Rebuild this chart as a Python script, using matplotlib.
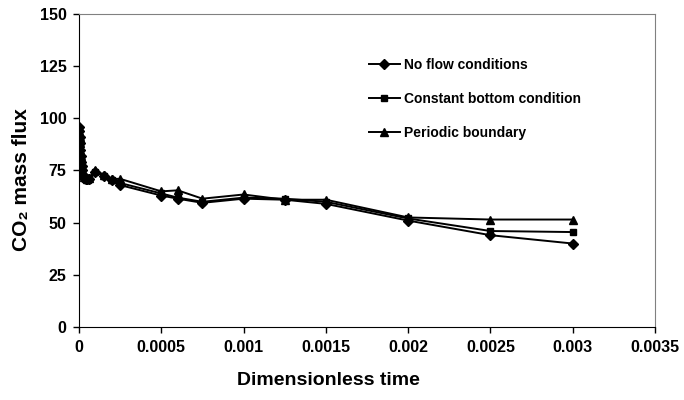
import matplotlib
matplotlib.use("Agg")
import matplotlib.pyplot as plt

plt.rcParams['font.family'] = ['Liberation Sans', 'DejaVu Sans']
plt.rcParams['font.weight'] = 'bold'

# Dimensionless time values
times = [0, 2e-6, 4e-6, 6e-6, 8e-6, 1e-5, 1.3e-5, 1.6e-5, 2e-5, 2.5e-5, 3e-5,
         4e-5, 5e-5, 6e-5, 1e-4, 1.5e-4, 2e-4, 2.5e-4, 5e-4, 6e-4, 7.5e-4,
         1e-3, 1.25e-3, 1.5e-3, 2e-3, 2.5e-3, 3e-3]

# CO2 mass flux for each boundary condition
no_flow = [96, 94, 91, 88, 85, 82, 79, 77, 75, 73, 72, 71, 71, 71, 74.5, 72.5,
           70.5, 68, 63, 61.5, 59.5, 61.5, 61, 59, 51, 44, 40]
constant_bottom = [95, 93, 90, 87, 84, 81, 78, 76, 74, 72.5, 71.5, 71, 70.5, 71,
                   74.5, 72.5, 70.5, 69, 64, 62, 60, 62, 61.5, 60, 52, 46, 45.5]
periodic = [96, 94, 91, 88, 85, 82, 79, 77, 75, 73, 72, 71.5, 71, 71.5, 75, 73,
            71, 71, 65, 65.5, 61.5, 63.5, 61, 61, 52.5, 51.5, 51.5]

series_labels = ["No flow conditions", "Constant bottom condition", "Periodic boundary"]

x_ticks = [0, 0.0005, 0.001, 0.0015, 0.002, 0.0025, 0.003, 0.0035]
x_tick_labels = ["0", "0.0005", "0.001", "0.0015", "0.002", "0.0025", "0.003", "0.0035"]
y_ticks = [0, 25, 50, 75, 100, 125, 150]

fig = plt.figure(figsize=(6.84, 4.0), dpi=100)
ax = fig.add_axes([79 / 684, 1 - 327 / 400, (655 - 79) / 684, (327 - 14) / 400])

ax.plot(times, no_flow, color='black', lw=1.4, marker='D', ms=5, label=series_labels[0])
ax.plot(times, constant_bottom, color='black', lw=1.4, marker='s', ms=5, label=series_labels[1])
ax.plot(times, periodic, color='black', lw=1.4, marker='^', ms=6, label=series_labels[2])

ax.set_xlim(0, 0.0035)
ax.set_ylim(0, 150)
ax.set_xticks(x_ticks)
ax.set_xticklabels(x_tick_labels)
ax.set_yticks(y_ticks)
ax.tick_params(axis='both', direction='out', length=4, width=1, labelsize=11.5, pad=5)

for side in ['top', 'right']:
    ax.spines[side].set_color('#808080')
for side in ['left', 'bottom']:
    ax.spines[side].set_color('black')

ax.set_xlabel("Dimensionless time", fontsize=14, fontweight='bold')
ax.xaxis.set_label_coords((328 - 79) / 576, (327 - 372) / 313)
ax.set_ylabel("CO\u2082 mass flux", fontsize=15, fontweight='bold')
ax.yaxis.set_label_coords((31 - 79) / 576, (327 - 180) / 313)

ax.legend(loc='upper left', bbox_to_anchor=(362 / 684, 1 - 51 / 400),
          bbox_transform=fig.transFigure, frameon=False, fontsize=10,
          handlelength=2.2, handletextpad=0.3, labelspacing=1.45, borderpad=0)

fig.savefig("out.png", dpi=100)
